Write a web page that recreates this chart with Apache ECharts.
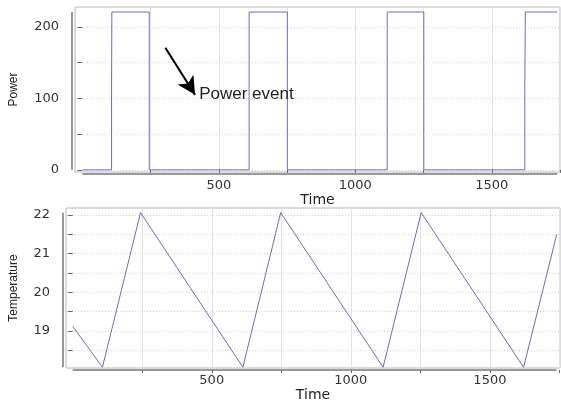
<!DOCTYPE html>
<html>
<head>
<meta charset="utf-8">
<script src="https://cdn.jsdelivr.net/npm/echarts@6/dist/echarts.min.js"></script>
<style>html,body{margin:0;padding:0;background:#fff}#c{width:561px;height:403px}</style>
</head>
<body>
<div id="c"></div>
<script>
// ---- data ----
var powerTime  = [0, 107, 107, 108, 245, 245, 611, 611, 751, 751, 1117, 1117, 1251, 1251, 1621, 1621, 1623, 1740];
var powerValue = [0, 0,   111, 221, 221, 0,   0,   221, 221, 0,   0,    221,  221,  0,    0,    111,  221,  221];
var tempTime   = [0,     107,   244,   612,   748,   1116,  1253,  1621,  1740];
var tempValue  = [19.12, 18.06, 22.06, 18.06, 22.06, 18.06, 22.06, 18.06, 21.49];
var timeTicks  = [250, 500, 750, 1000, 1250, 1500, 1750];
var timeLabels = [500, 1000, 1500];
var powerTicks = [0, 50, 100, 150, 200];
var powerLabels = [0, 100, 200];
var tempTicks  = [18.5, 19, 19.5, 20, 20.5, 21, 21.5, 22];
var tempLabels = [19, 20, 21, 22];
var annotation = {from: [304, 171], to: [413, 105], text: 'Power event', textAt: [428, 106]};

function zip(a, b) { return a.map(function (v, i) { return [v, b[i]]; }); }

var LINE = '#7468c6';
var NARROW = '"Liberation Sans", Arial, sans-serif';
var WIDE = '"DejaVu Sans", Verdana, sans-serif';
function plain(v) { return String(v); }

var chart = echarts.init(document.getElementById('c'));

function xAx(gi, min, max, margin) {
  return {
    type: 'value', gridIndex: gi, min: min, max: max, offset: 2,
    name: 'Time', nameLocation: 'middle', nameGap: 18,
    nameTextStyle: {fontFamily: WIDE, fontSize: 14, color: '#222'},
    axisLine: {show: false},
    axisTick: {show: true, length: 3, customValues: timeTicks, lineStyle: {color: '#666'}},
    axisLabel: {customValues: timeLabels, formatter: plain, margin: margin, fontFamily: WIDE, fontSize: 13, color: '#333'},
    splitLine: {show: true, lineStyle: {color: '#e2e2e2', width: 1}}
  };
}
function yAx(gi, min, max, ticks, labels, name, gap) {
  return {
    type: 'value', gridIndex: gi, min: min, max: max, offset: 3,
    name: name, nameLocation: 'middle', nameGap: gap, nameRotate: 90,
    nameTextStyle: {fontFamily: NARROW, fontSize: 12, color: '#222'},
    axisLine: {show: false},
    axisTick: {show: true, length: 5, customValues: ticks, lineStyle: {color: '#666'}},
    axisLabel: {customValues: labels, formatter: plain, margin: 13, fontFamily: WIDE, fontSize: 13, color: '#333'},
    splitLine: {show: true, lineStyle: {color: '#d2d2d2', type: [1, 2], width: 1}}
  };
}

var option = {
  animation: false,
  backgroundColor: '#fff',
  grid: [
    {left: 72, top: 7, right: 1, height: 165, show: true, borderColor: '#b8b8b8', borderWidth: 1, backgroundColor: 'transparent'},
    {left: 63, top: 208, right: 1, height: 160, show: true, borderColor: '#b8b8b8', borderWidth: 1, backgroundColor: 'transparent'}
  ],
  xAxis: [xAx(0, -27, 1750, 5), xAx(1, -24, 1752, 4)],
  yAxis: [
    yAx(0, -3, 228, powerTicks, powerLabels, 'Power', 52),
    yAx(1, 18.04, 22.18, tempTicks, tempLabels, 'Temperature', 43)
  ],
  series: [
    {
      type: 'line', xAxisIndex: 0, yAxisIndex: 0, data: zip(powerTime, powerValue),
      showSymbol: false, lineStyle: {color: LINE, width: 1}, itemStyle: {color: LINE},
      markLine: {
        silent: true, symbol: ['none', 'arrow'], symbolSize: [14, 18],
        lineStyle: {color: '#000', width: 2, type: 'solid'},
        label: {show: false},
        data: [[{coord: annotation.from}, {coord: annotation.to}]]
      },
      markPoint: {
        silent: true, symbol: 'circle', symbolSize: 0,
        label: {show: true, position: 'right', distance: 0, formatter: annotation.text,
                fontFamily: NARROW, fontSize: 17, color: '#222'},
        data: [{coord: annotation.textAt}]
      }
    },
    {
      type: 'line', xAxisIndex: 1, yAxisIndex: 1, data: zip(tempTime, tempValue),
      showSymbol: false, lineStyle: {color: LINE, width: 1}, itemStyle: {color: LINE}
    }
  ]
};
chart.setOption(option);

// range-frame axis lines, positioned through the library's scales
function rangeFrame(gi, xs, ys, xOff, yOff) {
  var xmin = Math.min.apply(null, xs), xmax = Math.max.apply(null, xs);
  var ymin = Math.min.apply(null, ys), ymax = Math.max.apply(null, ys);
  var axMin = option.xAxis[gi].min, ayMin = option.yAxis[gi].min;
  var pA = chart.convertToPixel({gridIndex: gi}, [axMin, ayMin]);
  var pX0 = chart.convertToPixel({gridIndex: gi}, [xmin, ayMin]);
  var pX1 = chart.convertToPixel({gridIndex: gi}, [xmax, ayMin]);
  var pY0 = chart.convertToPixel({gridIndex: gi}, [axMin, ymin]);
  var pY1 = chart.convertToPixel({gridIndex: gi}, [axMin, ymax]);
  var style = {stroke: '#777', lineWidth: 1.5};
  return [
    {type: 'line', silent: true, shape: {x1: pX0[0], y1: pA[1] + yOff, x2: pX1[0], y2: pA[1] + yOff}, style: style},
    {type: 'line', silent: true, shape: {x1: pA[0] - xOff, y1: pY0[1], x2: pA[0] - xOff, y2: pY1[1]}, style: style}
  ];
}
chart.setOption({
  graphic: rangeFrame(0, powerTime, powerValue, 3, 2).concat(rangeFrame(1, tempTime, tempValue, 3, 2))
});
</script>
</body>
</html>
